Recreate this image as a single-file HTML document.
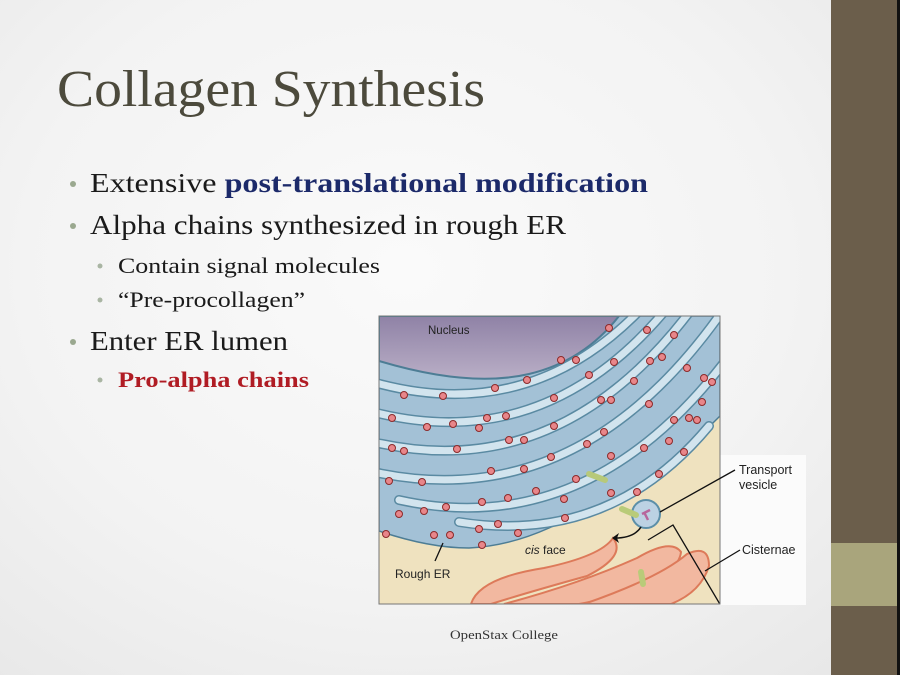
<!DOCTYPE html>
<html><head><meta charset="utf-8"><style>
html,body{margin:0;padding:0}
body{width:900px;height:675px;position:relative;overflow:hidden;background:radial-gradient(ellipse at 45% 40%,#fafafa 0%,#f3f3f3 55%,#e6e6e6 100%);font-family:"Liberation Serif",serif}
</style></head><body>
<svg width="900" height="675" style="position:absolute;left:0;top:0">
<rect x="831" y="0" width="66" height="675" fill="#6b5e4b"/>
<rect x="831" y="543" width="66" height="63" fill="#a9a57c"/>
<rect x="897" y="0" width="3" height="675" fill="#111"/>
<rect x="720" y="455" width="86" height="150" fill="#fbfbfb"/>
<text x="57" y="106" font-family="Liberation Serif,serif" font-size="52" fill="#4c4a3c" textLength="428" lengthAdjust="spacingAndGlyphs">Collagen Synthesis</text>
<g font-size="27" fill="#1a1a1a">
<circle cx="73" cy="184" r="3" fill="#9aa88f"/>
<text x="90" y="192" textLength="558" lengthAdjust="spacingAndGlyphs">Extensive <tspan font-weight="bold" fill="#1c2a6a">post-translational modification</tspan></text>
<circle cx="73" cy="226" r="3" fill="#9aa88f"/>
<text x="90" y="234" textLength="476" lengthAdjust="spacingAndGlyphs">Alpha chains synthesized in rough ER</text>
<circle cx="73" cy="342" r="3" fill="#9aa88f"/>
<text x="90" y="350" textLength="198" lengthAdjust="spacingAndGlyphs">Enter ER lumen</text>
</g>
<g font-size="22" fill="#1a1a1a">
<circle cx="100" cy="266" r="2.5" fill="#a9b5a3"/>
<text x="118" y="273" textLength="262" lengthAdjust="spacingAndGlyphs">Contain signal molecules</text>
<circle cx="100" cy="300" r="2.5" fill="#a9b5a3"/>
<text x="118" y="307" textLength="187" lengthAdjust="spacingAndGlyphs">“Pre-procollagen”</text>
<circle cx="100" cy="380" r="2.5" fill="#a9b5a3"/>
<text x="118" y="387" font-weight="bold" fill="#b01c24" textLength="191" lengthAdjust="spacingAndGlyphs">Pro-alpha chains</text>
</g>
<text x="450" y="639" font-size="13" fill="#333" textLength="108" lengthAdjust="spacingAndGlyphs">OpenStax College</text>

<g transform="translate(379,316)">
<defs><clipPath id="c"><rect x="0" y="0" width="341" height="288"/></clipPath>
<linearGradient id="nu" x1="0" y1="0" x2="0" y2="1"><stop offset="0" stop-color="#8f82a6"/><stop offset="1" stop-color="#b9aec6"/></linearGradient></defs>
<g clip-path="url(#c)">
<rect width="341" height="288" fill="#efe2bf"/>
<path d="M0,0 H341 V100 Q320,120 300,145 Q270,170 230,185 Q200,198 170,212 Q130,230 90,232 Q50,232 0,215 Z" fill="#a3c1d6" stroke="#4d7d95" stroke-width="1.5"/>
<path d="M0,0 H240 Q205,45 150,58 Q90,72 0,45 Z" fill="url(#nu)" stroke="#4d7d95" stroke-width="2"/>
<g fill="none" stroke-linecap="round">
<g stroke="#5a8aa2" stroke-width="10">
<path d="M-10,65 Q150,112 265,-10"/>
<path d="M-10,95 Q165,142 290,-10"/>
<path d="M-10,125 Q180,172 315,-10"/>
<path d="M-10,155 Q195,202 340,0"/>
<path d="M20,184 Q210,226 350,40"/>
<path d="M80,206 Q230,230 330,110"/>
</g>
<g stroke="#d2e4ee" stroke-width="7">
<path d="M-10,65 Q150,112 265,-10"/>
<path d="M-10,95 Q165,142 290,-10"/>
<path d="M-10,125 Q180,172 315,-10"/>
<path d="M-10,155 Q195,202 340,0"/>
<path d="M20,184 Q210,226 350,40"/>
<path d="M80,206 Q230,230 330,110"/>
</g>
</g>
<g fill="#e8868a" stroke="#8c2a2a" stroke-width="1">
<circle cx="25" cy="79" r="3.5"/><circle cx="64" cy="80" r="3.5"/><circle cx="116" cy="72" r="3.5"/><circle cx="148" cy="64" r="3.5"/>
<circle cx="13" cy="102" r="3.5"/><circle cx="48" cy="111" r="3.5"/><circle cx="74" cy="108" r="3.5"/><circle cx="108" cy="102" r="3.5"/><circle cx="127" cy="100" r="3.5"/><circle cx="100" cy="112" r="3.5"/>
<circle cx="13" cy="132" r="3.5"/><circle cx="25" cy="135" r="3.5"/><circle cx="78" cy="133" r="3.5"/><circle cx="130" cy="124" r="3.5"/><circle cx="145" cy="124" r="3.5"/><circle cx="175" cy="110" r="3.5"/><circle cx="208" cy="128" r="3.5"/>
<circle cx="10" cy="165" r="3.5"/><circle cx="43" cy="166" r="3.5"/><circle cx="112" cy="155" r="3.5"/><circle cx="145" cy="153" r="3.5"/><circle cx="172" cy="141" r="3.5"/><circle cx="197" cy="163" r="3.5"/><circle cx="232" cy="140" r="3.5"/><circle cx="265" cy="132" r="3.5"/><circle cx="290" cy="125" r="3.5"/>
<circle cx="20" cy="198" r="3.5"/><circle cx="45" cy="195" r="3.5"/><circle cx="67" cy="191" r="3.5"/><circle cx="103" cy="186" r="3.5"/><circle cx="129" cy="182" r="3.5"/><circle cx="157" cy="175" r="3.5"/><circle cx="185" cy="183" r="3.5"/><circle cx="232" cy="177" r="3.5"/><circle cx="258" cy="176" r="3.5"/><circle cx="280" cy="158" r="3.5"/>
<circle cx="7" cy="218" r="3.5"/><circle cx="55" cy="219" r="3.5"/><circle cx="71" cy="219" r="3.5"/><circle cx="100" cy="213" r="3.5"/><circle cx="119" cy="208" r="3.5"/><circle cx="139" cy="217" r="3.5"/><circle cx="103" cy="229" r="3.5"/><circle cx="186" cy="202" r="3.5"/>
<circle cx="230" cy="12" r="3.5"/><circle cx="268" cy="14" r="3.5"/><circle cx="295" cy="19" r="3.5"/><circle cx="182" cy="44" r="3.5"/><circle cx="197" cy="44" r="3.5"/><circle cx="235" cy="46" r="3.5"/><circle cx="271" cy="45" r="3.5"/><circle cx="283" cy="41" r="3.5"/><circle cx="210" cy="59" r="3.5"/><circle cx="255" cy="65" r="3.5"/><circle cx="308" cy="52" r="3.5"/><circle cx="325" cy="62" r="3.5"/><circle cx="333" cy="66" r="3.5"/>
<circle cx="175" cy="82" r="3.5"/><circle cx="222" cy="84" r="3.5"/><circle cx="232" cy="84" r="3.5"/><circle cx="270" cy="88" r="3.5"/><circle cx="295" cy="104" r="3.5"/><circle cx="310" cy="102" r="3.5"/><circle cx="318" cy="104" r="3.5"/><circle cx="225" cy="116" r="3.5"/><circle cx="323" cy="86" r="3.5"/><circle cx="305" cy="136" r="3.5"/>
</g>
<path d="M210,158 L226,164" stroke="#b7c97a" stroke-width="6" stroke-linecap="round"/>
<path d="M92,288 Q100,262 165,252 Q222,240 234,222 Q248,240 208,260 Q150,276 112,288 Z" fill="#f2b8a0" stroke="#dd7a5a" stroke-width="2"/>
<path d="M125,288 Q200,268 258,242 Q292,222 302,236 Q300,256 258,272 Q225,284 200,288 Z" fill="#f2b8a0" stroke="#dd7a5a" stroke-width="2"/>
<path d="M205,288 Q280,262 308,238 Q330,228 330,250 Q322,276 292,288 Z" fill="#f2b8a0" stroke="#dd7a5a" stroke-width="2"/>
<circle cx="267" cy="198" r="14" fill="#bcd2e3" stroke="#5c8fa8" stroke-width="2"/>
<path d="M263,198 l8,-4 M265,196 l4,8" stroke="#b7679c" stroke-width="2.5"/>
<path d="M243,193 L257,199" stroke="#b9cb79" stroke-width="6" stroke-linecap="round"/>
<path d="M262,256 L264,268" stroke="#b9cb79" stroke-width="6" stroke-linecap="round"/>
<path d="M262,211 Q255,222 236,222" fill="none" stroke="#111" stroke-width="1.5"/>
<path d="M233,222 l7,-5 l-2,5 l2,5 z" fill="#111"/>
<path d="M269,224 L294,209 L342,290" fill="none" stroke="#111" stroke-width="1.3"/>
<path d="M64,227 L56,245" stroke="#111" stroke-width="1.3"/>
<text x="49" y="18" font-family="Liberation Sans,sans-serif" font-size="11.5" fill="#222">Nucleus</text>
<text x="16" y="262" font-family="Liberation Sans,sans-serif" font-size="12" fill="#222">Rough ER</text>
<text x="146" y="238" font-family="Liberation Sans,sans-serif" font-size="12" fill="#222"><tspan font-style="italic">cis</tspan> face</text>
</g>
<rect x="0" y="0" width="341" height="288" fill="none" stroke="#777" stroke-width="1"/>
</g>
<path d="M660,512 L735,470" stroke="#111" stroke-width="1.3"/>
<path d="M705,571 L740,550" stroke="#111" stroke-width="1.3"/>
<g font-family="Liberation Sans,sans-serif" font-size="12.5" fill="#222">
<text x="739" y="474">Transport</text>
<text x="739" y="489">vesicle</text>
<text x="742" y="554">Cisternae</text>
</g>
</svg>
</body></html>
